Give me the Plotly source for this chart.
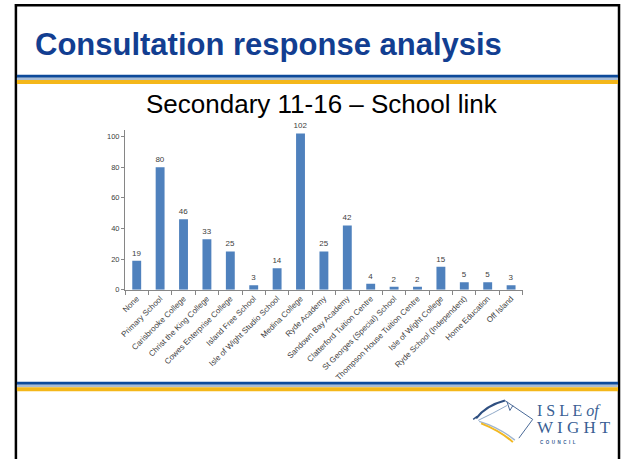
import plotly.graph_objects as go

categories = ["None", "Primary School", "Carisbrooke College", "Christ the King College",
              "Cowes Enterprise College", "Island Free School", "Isle of Wight Studio School",
              "Medina College", "Ryde Academy", "Sandown Bay Academy",
              "Clatterford Tuition Centre", "St Georges (Special) School",
              "Thompson House Tuition Centre", "Isle of Wight College",
              "Ryde School (Independent)", "Home Education", "Off Island"]
values = [19, 80, 46, 33, 25, 3, 14, 102, 25, 42, 4, 2, 2, 15, 5, 5, 3]
y_ticks = [0, 20, 40, 60, 80, 100]

W, H = 621, 459


def px(x):
    return x / W


def py(y):
    return 1 - y / H


fig = go.Figure()
fig.add_trace(go.Bar(
    x=categories, y=values, text=[str(v) for v in values],
    textposition="outside", cliponaxis=False, constraintext="none",
    textfont=dict(family="Liberation Sans, Arial", size=8, color="#404040"),
    marker=dict(color="#4F81BD", line=dict(width=0)),
))

shapes = []
# slide border
shapes.append(dict(type="line", xref="paper", yref="paper", x0=px(11), x1=px(11), y0=py(4), y1=py(470),
                   line=dict(color="black", width=2.5)))
shapes.append(dict(type="line", xref="paper", yref="paper", x0=px(619), x1=px(619), y0=py(4), y1=py(470),
                   line=dict(color="black", width=2.5)))
shapes.append(dict(type="line", xref="paper", yref="paper", x0=px(10), x1=px(620), y0=py(5.2), y1=py(5.2),
                   line=dict(color="black", width=2.5)))


def band(y0, y1, color):
    return dict(type="rect", xref="paper", yref="paper", x0=px(12), x1=px(618), y0=py(y0), y1=py(y1),
                fillcolor=color, line=dict(width=0), layer="above")


for top in (75.5, 386):
    shapes.append(band(top, top + 3, "#0D4A9A"))
    shapes.append(band(top + 3, top + 5.5, "#A9BCD4"))
    shapes.append(band(top + 5.5, top + 9.5, "#F4B71A"))


def path(points):
    s = "M %f,%f" % (px(points[0][0]), py(points[0][1]))
    for i in range(1, len(points), 2):
        a, b = points[i], points[i + 1]
        s += " Q %f,%f %f,%f" % (px(a[0]), py(a[1]), px(b[0]), py(b[1]))
    return s


def lpath(points):
    s = "M %f,%f" % (px(points[0][0]), py(points[0][1]))
    for p in points[1:]:
        s += " L %f,%f" % (px(p[0]), py(p[1]))
    return s


# logo swoosh
shapes.append(dict(type="path", xref="paper", yref="paper",
                   path=path([(475, 423), (485, 410), (504, 405)]),
                   line=dict(color="#2F4F80", width=2)))
shapes.append(dict(type="path", xref="paper", yref="paper",
                   path=path([(477, 425), (492, 418), (506, 410)]),
                   line=dict(color="#8FA9C8", width=1)))
shapes.append(dict(type="path", xref="paper", yref="paper",
                   path=lpath([(504, 405), (532, 424), (518, 443)]),
                   line=dict(color="#4A6A98", width=1)))
shapes.append(dict(type="path", xref="paper", yref="paper",
                   path=lpath([(506, 406), (509, 415), (512, 410)]),
                   line=dict(color="#4A6A98", width=1)))
shapes.append(dict(type="path", xref="paper", yref="paper",
                   path=path([(478, 426), (498, 432), (514, 445)]),
                   line=dict(color="#9FB5D0", width=1.5)))
shapes.append(dict(type="path", xref="paper", yref="paper",
                   path=path([(480, 428), (500, 436), (512, 447)]),
                   line=dict(color="#F2B822", width=2)))
shapes.append(dict(type="path", xref="paper", yref="paper",
                   path=lpath([(472, 424), (476, 421)]),
                   line=dict(color="#2F4F80", width=1.5)))

annotations = [
    dict(text="<b>Consultation response analysis</b>", xref="paper", yref="paper",
         x=px(28), y=py(45), xanchor="left", yanchor="middle", showarrow=False,
         font=dict(family="Liberation Sans, Arial", size=31, color="#123E91")),
    dict(text="Secondary 11-16 \u2013 School link", xref="paper", yref="paper",
         x=px(320), y=py(105), xanchor="center", yanchor="middle", showarrow=False,
         font=dict(family="Liberation Sans, Arial", size=26, color="black")),
    dict(text="I S L E <i>of</i>", xref="paper", yref="paper",
         x=px(534), y=py(416), xanchor="left", yanchor="middle", showarrow=False,
         font=dict(family="Liberation Serif, DejaVu Serif", size=16, color="#3A5F94")),
    dict(text="W I G H T", xref="paper", yref="paper",
         x=px(534), y=py(432), xanchor="left", yanchor="middle", showarrow=False,
         font=dict(family="Liberation Serif, DejaVu Serif", size=17, color="#3A5F94")),
    dict(text="<b>C  O  U  N  C  I  L</b>", xref="paper", yref="paper",
         x=px(537), y=py(447), xanchor="left", yanchor="middle", showarrow=False,
         font=dict(family="Liberation Sans, Arial", size=4.5, color="#3A5F94")),
]

fig.update_layout(
    width=W, height=H, margin=dict(l=0, r=0, t=0, b=0),
    paper_bgcolor="white", plot_bgcolor="white",
    showlegend=False, bargap=0.62,
    shapes=shapes, annotations=annotations,
    xaxis=dict(domain=[px(121), px(522)], type="category", tickangle=-45,
               showline=True, linecolor="#868686", linewidth=1,
               ticks="outside", tickson="boundaries", ticklen=4, tickcolor="#868686",
               tickfont=dict(family="Liberation Sans, Arial", size=8, color="#404040"),
               showgrid=False, zeroline=False, fixedrange=True),
    yaxis=dict(domain=[py(293), py(131)], range=[0, 104.5], tickvals=y_ticks,
               showline=True, linecolor="#868686", linewidth=1,
               ticks="outside", ticklen=3, tickcolor="#868686",
               tickfont=dict(family="Liberation Sans, Arial", size=7.5, color="#404040"),
               showgrid=False, zeroline=False, fixedrange=True),
)

fig.write_html("out.html", config={"displayModeBar": False},
               post_script="document.body.style.margin='0';document.body.style.overflow='hidden';")
